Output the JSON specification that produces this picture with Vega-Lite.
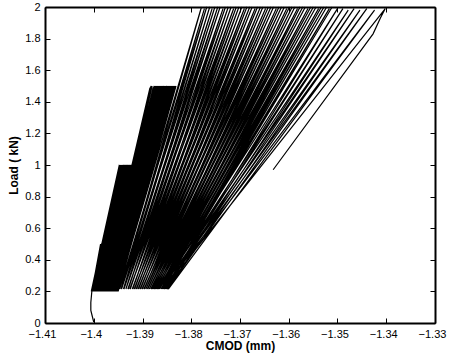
{
  "$schema": "https://vega.github.io/schema/vega-lite/v6.json",
  "width": 390,
  "height": 316,
  "autosize": {"type": "none"},
  "padding": {"left": 45, "top": 7, "right": 14, "bottom": 35},
  "background": "white",
  "config": {
    "view": {"stroke": null},
    "font": "Liberation Sans",
    "axis": {"grid": false, "domainColor": "black", "tickColor": "black", "labelColor": "black", "titleColor": "black", "domainWidth": 2, "tickWidth": 1, "labelFont": "Liberation Sans", "titleFont": "Liberation Sans"}
  },
  "data": {"values": [
    {"i":0,"x":-1.4000,"y":0.005},{"i":1,"x":-1.4002,"y":0.03},{"i":2,"x":-1.4006,"y":0.08},{"i":3,"x":-1.4006,"y":0.13},
    {"i":4,"x":-1.4004,"y":0.198},{"i":5,"x":-1.3986,"y":0.5},{"i":6,"x":-1.4003,"y":0.2},{"i":7,"x":-1.39855,"y":0.5},
    {"i":8,"x":-1.4002,"y":0.2},{"i":9,"x":-1.3985,"y":0.5},{"i":10,"x":-1.4001,"y":0.2},{"i":11,"x":-1.39845,"y":0.5},
    {"i":12,"x":-1.4000,"y":0.2},{"i":13,"x":-1.3984,"y":0.5},
    {"i":14,"x":-1.4005,"y":0.2},{"i":15,"x":-1.39475,"y":1.0},{"i":16,"x":-1.40032,"y":0.2},{"i":17,"x":-1.39458,"y":1.0},
    {"i":18,"x":-1.40014,"y":0.2},{"i":19,"x":-1.39441,"y":1.0},{"i":20,"x":-1.39996,"y":0.2},{"i":21,"x":-1.39424,"y":1.0},
    {"i":22,"x":-1.39978,"y":0.2},{"i":23,"x":-1.39407,"y":1.0},{"i":24,"x":-1.3996,"y":0.2},{"i":25,"x":-1.3939,"y":1.0},
    {"i":26,"x":-1.39942,"y":0.2},{"i":27,"x":-1.39374,"y":1.0},{"i":28,"x":-1.39924,"y":0.2},{"i":29,"x":-1.39357,"y":1.0},
    {"i":30,"x":-1.39906,"y":0.2},{"i":31,"x":-1.3934,"y":1.0},{"i":32,"x":-1.39888,"y":0.2},{"i":33,"x":-1.39323,"y":1.0},
    {"i":34,"x":-1.3987,"y":0.2},{"i":35,"x":-1.39306,"y":1.0},{"i":36,"x":-1.39852,"y":0.2},{"i":37,"x":-1.39289,"y":1.0},
    {"i":38,"x":-1.39834,"y":0.2},{"i":39,"x":-1.39272,"y":1.0},{"i":40,"x":-1.39816,"y":0.2},{"i":41,"x":-1.39256,"y":1.0},
    {"i":42,"x":-1.39798,"y":0.2},{"i":43,"x":-1.39239,"y":1.0},{"i":44,"x":-1.3978,"y":0.2},{"i":45,"x":-1.39222,"y":1.0},
    {"i":46,"x":-1.3982,"y":0.2},{"i":47,"x":-1.38846,"y":1.49},{"i":48,"x":-1.39807,"y":0.2},{"i":49,"x":-1.38825,"y":1.5},
    {"i":50,"x":-1.39794,"y":0.2},{"i":51,"x":-1.38803,"y":1.5},{"i":52,"x":-1.39782,"y":0.2},{"i":53,"x":-1.38782,"y":1.49},
    {"i":54,"x":-1.39769,"y":0.2},{"i":55,"x":-1.38761,"y":1.5},{"i":56,"x":-1.39756,"y":0.2},{"i":57,"x":-1.3874,"y":1.5},
    {"i":58,"x":-1.39743,"y":0.2},{"i":59,"x":-1.38718,"y":1.5},{"i":60,"x":-1.3973,"y":0.2},{"i":61,"x":-1.38697,"y":1.5},
    {"i":62,"x":-1.39718,"y":0.2},{"i":63,"x":-1.38676,"y":1.5},{"i":64,"x":-1.39705,"y":0.2},{"i":65,"x":-1.38654,"y":1.5},
    {"i":66,"x":-1.39692,"y":0.2},{"i":67,"x":-1.38633,"y":1.5},{"i":68,"x":-1.39679,"y":0.2},{"i":69,"x":-1.38612,"y":1.5},
    {"i":70,"x":-1.39666,"y":0.2},{"i":71,"x":-1.38591,"y":1.5},{"i":72,"x":-1.39654,"y":0.2},{"i":73,"x":-1.38569,"y":1.5},
    {"i":74,"x":-1.39641,"y":0.2},{"i":75,"x":-1.38548,"y":1.5},{"i":76,"x":-1.39628,"y":0.2},{"i":77,"x":-1.38527,"y":1.5},
    {"i":78,"x":-1.39615,"y":0.2},{"i":79,"x":-1.38505,"y":1.5},{"i":80,"x":-1.39602,"y":0.2},{"i":81,"x":-1.38484,"y":1.5},
    {"i":82,"x":-1.3959,"y":0.2},{"i":83,"x":-1.38463,"y":1.5},{"i":84,"x":-1.39577,"y":0.2},{"i":85,"x":-1.38442,"y":1.5},
    {"i":86,"x":-1.39564,"y":0.2},{"i":87,"x":-1.3842,"y":1.5},{"i":88,"x":-1.39551,"y":0.2},{"i":89,"x":-1.38399,"y":1.5},
    {"i":90,"x":-1.39538,"y":0.2},{"i":91,"x":-1.38378,"y":1.5},{"i":92,"x":-1.39526,"y":0.2},{"i":93,"x":-1.38356,"y":1.5},
    {"i":94,"x":-1.39513,"y":0.2},{"i":95,"x":-1.38335,"y":1.5},{"i":96,"x":-1.395,"y":0.2},{"i":97,"x":-1.38313,"y":1.5},
    {"i":98,"x":-1.395,"y":0.215},{"i":99,"x":-1.3779,"y":2.0},{"i":100,"x":-1.3944,"y":0.215},{"i":101,"x":-1.3773,"y":1.99},
    {"i":102,"x":-1.3947,"y":0.215},{"i":103,"x":-1.37682,"y":2.0},{"i":104,"x":-1.3939,"y":0.215},{"i":105,"x":-1.37621,"y":2.0},
    {"i":106,"x":-1.3943,"y":0.215},{"i":107,"x":-1.37572,"y":1.99},{"i":108,"x":-1.3934,"y":0.215},{"i":109,"x":-1.37515,"y":2.0},
    {"i":110,"x":-1.3938,"y":0.215},{"i":111,"x":-1.37456,"y":2.0},{"i":112,"x":-1.3929,"y":0.215},{"i":113,"x":-1.37408,"y":2.0},
    {"i":114,"x":-1.3934,"y":0.215},{"i":115,"x":-1.37348,"y":1.99},{"i":116,"x":-1.3925,"y":0.215},{"i":117,"x":-1.37298,"y":2.0},
    {"i":118,"x":-1.393,"y":0.215},{"i":119,"x":-1.3724,"y":2.0},{"i":120,"x":-1.392,"y":0.215},{"i":121,"x":-1.37182,"y":2.0},
    {"i":122,"x":-1.3926,"y":0.215},{"i":123,"x":-1.3713,"y":1.99},{"i":124,"x":-1.3916,"y":0.215},{"i":125,"x":-1.37075,"y":2.0},
    {"i":126,"x":-1.3921,"y":0.215},{"i":127,"x":-1.37022,"y":2.0},{"i":128,"x":-1.3912,"y":0.215},{"i":129,"x":-1.36962,"y":2.0},
    {"i":130,"x":-1.3917,"y":0.215},{"i":131,"x":-1.3691,"y":1.99},{"i":132,"x":-1.3908,"y":0.215},{"i":133,"x":-1.36858,"y":2.0},
    {"i":134,"x":-1.3913,"y":0.215},{"i":135,"x":-1.368,"y":2.0},{"i":136,"x":-1.3904,"y":0.215},{"i":137,"x":-1.3675,"y":2.0},
    {"i":138,"x":-1.3909,"y":0.215},{"i":139,"x":-1.3669,"y":1.99},{"i":140,"x":-1.39,"y":0.215},{"i":141,"x":-1.3664,"y":2.0},
    {"i":142,"x":-1.3905,"y":0.215},{"i":143,"x":-1.3658,"y":2.0},{"i":144,"x":-1.3896,"y":0.215},{"i":145,"x":-1.3653,"y":2.0},
    {"i":146,"x":-1.3901,"y":0.215},{"i":147,"x":-1.36475,"y":1.99},{"i":148,"x":-1.3893,"y":0.215},{"i":149,"x":-1.36418,"y":2.0},
    {"i":150,"x":-1.3897,"y":0.215},{"i":151,"x":-1.36365,"y":2.0},{"i":152,"x":-1.3889,"y":0.215},{"i":153,"x":-1.36312,"y":2.0},
    {"i":154,"x":-1.3893,"y":0.215},{"i":155,"x":-1.36255,"y":1.99},{"i":156,"x":-1.3886,"y":0.215},{"i":157,"x":-1.362,"y":2.0},
    {"i":158,"x":-1.389,"y":0.215},{"i":159,"x":-1.36148,"y":2.0},{"i":160,"x":-1.3882,"y":0.215},{"i":161,"x":-1.3609,"y":2.0},
    {"i":162,"x":-1.3886,"y":0.215},{"i":163,"x":-1.3604,"y":1.99},{"i":164,"x":-1.3879,"y":0.215},{"i":165,"x":-1.35985,"y":2.0},
    {"i":166,"x":-1.3883,"y":0.215},{"i":167,"x":-1.3593,"y":2.0},{"i":168,"x":-1.3876,"y":0.215},{"i":169,"x":-1.35875,"y":2.0},
    {"i":170,"x":-1.388,"y":0.215},{"i":171,"x":-1.3582,"y":1.99},{"i":172,"x":-1.3873,"y":0.215},{"i":173,"x":-1.35768,"y":2.0},
    {"i":174,"x":-1.3877,"y":0.215},{"i":175,"x":-1.35712,"y":2.0},{"i":176,"x":-1.387,"y":0.215},{"i":177,"x":-1.3566,"y":2.0},
    {"i":178,"x":-1.3874,"y":0.215},{"i":179,"x":-1.35605,"y":1.99},{"i":180,"x":-1.3867,"y":0.215},{"i":181,"x":-1.35548,"y":2.0},
    {"i":182,"x":-1.3871,"y":0.215},{"i":183,"x":-1.35495,"y":2.0},{"i":184,"x":-1.3865,"y":0.215},{"i":185,"x":-1.3544,"y":2.0},
    {"i":186,"x":-1.3868,"y":0.215},{"i":187,"x":-1.35388,"y":1.99},{"i":188,"x":-1.3862,"y":0.215},{"i":189,"x":-1.3533,"y":2.0},
    {"i":190,"x":-1.3865,"y":0.215},{"i":191,"x":-1.35278,"y":2.0},{"i":192,"x":-1.386,"y":0.215},{"i":193,"x":-1.35222,"y":2.0},
    {"i":194,"x":-1.3862,"y":0.215},{"i":195,"x":-1.35168,"y":1.99},{"i":196,"x":-1.3858,"y":0.215},{"i":197,"x":-1.3511,"y":2.0},
    {"i":198,"x":-1.3858,"y":0.215},{"i":198.5,"x":-1.3833,"y":0.37},{"i":199,"x":-1.35,"y":1.99},
    {"i":200,"x":-1.3855,"y":0.215},{"i":200.5,"x":-1.38294,"y":0.37},{"i":201,"x":-1.3489,"y":1.99},
    {"i":202,"x":-1.3856,"y":0.215},{"i":202.5,"x":-1.38295,"y":0.37},{"i":203,"x":-1.3478,"y":1.98},
    {"i":204,"x":-1.3853,"y":0.215},{"i":204.5,"x":-1.38259,"y":0.37},{"i":205,"x":-1.3466,"y":1.99},
    {"i":206,"x":-1.3852,"y":0.215},{"i":206.5,"x":-1.38241,"y":0.37},{"i":207,"x":-1.3454,"y":1.98},
    {"i":208,"x":-1.385,"y":0.215},{"i":208.5,"x":-1.38213,"y":0.37},{"i":209,"x":-1.344,"y":1.99},
    {"i":210,"x":-1.3849,"y":0.215},{"i":210.5,"x":-1.38192,"y":0.37},{"i":211,"x":-1.3424,"y":1.98},
    {"i":212,"x":-1.3847,"y":0.215},{"i":212.5,"x":-1.38158,"y":0.37},{"i":213,"x":-1.3402,"y":1.99},
    {"i":214,"x":-1.3412,"y":1.93},{"i":215,"x":-1.3427,"y":1.83},{"i":216,"x":-1.3632,"y":0.97}
  ]},
  "resolve": {"axis": {"x": "independent", "y": "independent"}},
  "layer": [
    {
      "mark": {"type": "line", "color": "black", "strokeWidth": 1.2},
      "encoding": {
        "order": {"field": "i", "type": "quantitative"},
        "x": {"field": "x", "type": "quantitative", "scale": {"domain": [-1.41, -1.33], "nice": false, "zero": false},
          "axis": {"orient": "bottom", "values": [-1.41, -1.4, -1.39, -1.38, -1.37, -1.36, -1.35, -1.34, -1.33], "format": "~g",
            "tickSize": -5, "labelPadding": 10, "labelFontSize": 11, "labelFlush": false, "labelOverlap": false, "labelOffset": -3,
            "title": "CMOD (mm)", "titleFontSize": 12, "titleFontWeight": "bold", "titlePadding": 1}},
        "y": {"field": "y", "type": "quantitative", "scale": {"domain": [0, 2], "nice": false, "zero": false},
          "axis": {"orient": "left", "values": [0, 0.2, 0.4, 0.6, 0.8, 1, 1.2, 1.4, 1.6, 1.8, 2], "format": "~g",
            "tickSize": -5, "labelPadding": 10, "labelFontSize": 11, "labelFlush": false, "labelOverlap": false,
            "title": "Load ( kN)", "titleFontSize": 12, "titleFontWeight": "bold", "titlePadding": 4}}
      }
    },
    {
      "mark": {"type": "line", "opacity": 0},
      "encoding": {
        "order": {"field": "i", "type": "quantitative"},
        "x": {"field": "x", "type": "quantitative",
          "axis": {"orient": "top", "values": [-1.41, -1.4, -1.39, -1.38, -1.37, -1.36, -1.35, -1.34, -1.33], "labels": false, "tickSize": -5, "title": null}},
        "y": {"field": "y", "type": "quantitative",
          "axis": {"orient": "right", "values": [0, 0.2, 0.4, 0.6, 0.8, 1, 1.2, 1.4, 1.6, 1.8, 2], "labels": false, "tickSize": -5, "title": null}}
      }
    }
  ]
}
